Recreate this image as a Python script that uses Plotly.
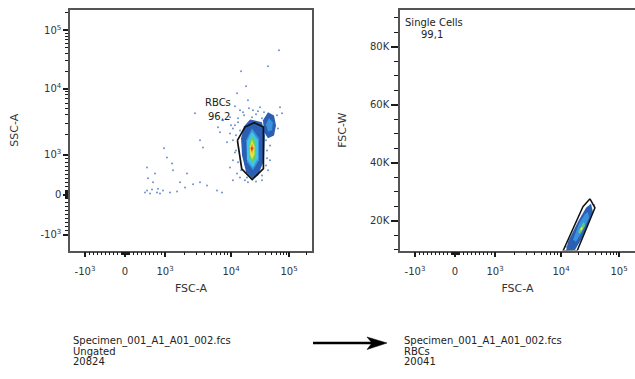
import numpy as np
import plotly.graph_objects as go

# ---------------- axis ticks ----------------
BIEX_TICK_VALUES = [-1000, 0, 1000, 10000, 100000]
BIEX_TICK_LABELS = ["-10<sup>3</sup>", "0", "10<sup>3</sup>", "10<sup>4</sup>", "10<sup>5</sup>"]
BIEX_MINOR_VALUES = (list(range(-900, 0, 100)) + list(range(-90, 0, 10)) + list(range(10, 100, 10))
                     + list(range(100, 1000, 100)) + list(range(2000, 10000, 1000))
                     + list(range(20000, 100000, 10000)) + [200000])
FSCW_TICK_VALUES = [20000, 40000, 60000, 80000]
FSCW_TICK_LABELS = ["20K", "40K", "60K", "80K"]

# ---------------- panel 1 : FSC-A vs SSC-A (ungated) ----------------
P1_DOTS_FSCA = [67300, 43500, 14900, 18200, 12700, 19600, 11700, 2850, 6350, 6810,
                9660, 10800, 8700, 11700, 10800, 9660, 12700, 3390, 3770, 975,
                1070, 1280, 2150, 1690, 3390, 4330, 6130, 7310, 550, 575,
                750, 700, 550, 625, 800, 950, 1190, 1520, 2010, 2660,
                70000, 62100, 31600, 23900, 41800, 75700, 9660, 7570, 14300, 10800,
                1320, 11700, 13200, 16800, 27000, 41800, 40100, 34200, 17400, 12200,
                675, 500, 825, 875, 14300, 40100, 19600, 47000,
                16100, 20400, 29200, 34200, 13200, 10800, 12200, 13200, 14900, 18900,
                27000, 34200, 43500, 41800, 47000, 14300, 23000, 37100, 10000, 64600]
P1_DOTS_SSCA = [45700, 24200, 19900, 11000, 8490, 6650, 5400, 4230, 2600, 2180,
                2100, 2500, 1540, 1080, 860, 680, 530, 1650, 1290, 1250,
                930, 780, 530, 310, 310, 230, 110, 60, 680, 410,
                530, 310, 110, 30, 60, 110, 60, 80, 180, 260,
                5210, 3940, 5210, 4690, 3310, 4230, 3670, 3310, 430, 360,
                610, 2780, 3550, 3940, 4080, 1160, 730, 480, 360, 1960,
                130, 60, 150, 30, 2330, 1650, 310, 860,
                4370, 5030, 4530, 3550, 3090, 1650, 1160, 810, 610, 430,
                330, 360, 610, 910, 1380, 4690, 3670, 4370, 2780, 2500]

# density levels of the main RBC population (outer -> inner)
P1_MAIN_L1_FSCA = [21300, 34200, 38500, 37100, 29200, 23000, 18200, 15500, 14900, 16800]
P1_MAIN_L1_SSCA = [3410, 3100, 1950, 860, 480, 410, 560, 980, 1770, 2690]
P1_MAIN_L2_FSCA = [23000, 30400, 30400, 23900, 18900, 18200]
P1_MAIN_L2_SSCA = [2510, 1770, 860, 610, 810, 1650]
P1_MAIN_L3_FSCA = [23000, 29200, 29200, 23900, 18900, 18900]
P1_MAIN_L3_SSCA = [2250, 1650, 910, 680, 880, 1590]
P1_MAIN_L4_FSCA = [23000, 27000, 27000, 23900, 20400, 20400]
P1_MAIN_L4_SSCA = [1960, 1480, 960, 780, 960, 1480]
P1_MAIN_L5_FSCA = [23000, 25400, 25400, 23000, 21300, 21300]
P1_MAIN_L5_SSCA = [1700, 1340, 1010, 880, 1010, 1340]
P1_MAIN_L6_FSCA = [23000, 24600, 23000, 21700]
P1_MAIN_L6_SSCA = [1480, 1250, 1030, 1250]
P1_MAIN_L7_FSCA = [23000, 23900, 23000, 22100]
P1_MAIN_L7_SSCA = [1340, 1250, 1120, 1250]
# secondary population (upper right)
P1_SEC_L1_FSCA = [43500, 55100, 59700, 55100, 43500, 37100, 35600]
P1_SEC_L1_SSCA = [4390, 3930, 2770, 1950, 1770, 2180, 3320]
P1_SEC_L2_FSCA = [45200, 52900, 50900, 43500, 40100]
P1_SEC_L2_SSCA = [3560, 3100, 2340, 2250, 2890]
# RBCs gate
P1_GATE_FSCA = [12900, 17400, 25100, 36200, 36200, 23200, 15300]
P1_GATE_SSCA = [1650, 2620, 3050, 2620, 650, 380, 650]

# ---------------- panel 2 : FSC-A vs FSC-W (RBCs) ----------------
P2_L1_FSCA = [32900, 35600, 24900, 17400, 12200, 13200, 19600, 27000]
P2_L1_FSCW = [25800, 23000, 15100, 9900, 9600, 12700, 19600, 24400]
P2_L2_FSCA = [29200, 30400, 23000, 18200, 16100, 20400, 25900]
P2_L2_FSCW = [23000, 21000, 16100, 12700, 13400, 18900, 22300]
P2_L3_FSCA = [24900, 25900, 21300, 19600]
P2_L3_FSCW = [19600, 18200, 15500, 16100]
P2_L4_FSCA = [23000, 23900, 22100, 21300]
P2_L4_FSCW = [17900, 17200, 16500, 17200]
P2_DOTS_FSCA = [12200, 37100, 14300]
P2_DOTS_FSCW = [11000, 25400, 11700]
P2_GATE_FSCA = [31600, 38500, 25900, 18900, 10800, 16100, 23900]
P2_GATE_FSCW = [27500, 24400, 16100, 9500, 9500, 17500, 24800]

LEVEL_COLORS = ["#2b5fb3", "#3a92dc", "#3fc6e6", "#63d067", "#e6e33a", "#f29b2e", "#e3341d"]
DOT_COLOR = "rgba(60,110,190,0.75)"


def biex(v):
    """Biexponential-like display transform (linear around 0, log above 10^3)."""
    v = np.asarray(v, dtype=float)
    a = np.abs(v)
    logpart = np.interp(np.log10(np.maximum(a, 1e-9)), [3, 4, 5, 6], [1.0, 2.65, 4.1, 5.55])
    out = np.where(a <= 1000, a / 1000.0, logpart)
    return np.sign(v) * out


def closed(a):
    return list(a) + [a[0]]


fig = go.Figure()


def add_level(xv, yv, color, xa, ya, ybiex=True):
    yy = biex(closed(yv)) if ybiex else closed(yv)
    fig.add_trace(go.Scatter(x=biex(closed(xv)), y=yy, mode="lines", fill="toself",
                             fillcolor=color, line=dict(width=0, color=color),
                             xaxis=xa, yaxis=ya, hoverinfo="skip", showlegend=False))


# panel 1
fig.add_trace(go.Scatter(x=biex(P1_DOTS_FSCA), y=biex(P1_DOTS_SSCA), mode="markers",
                         marker=dict(size=2, color=DOT_COLOR), xaxis="x", yaxis="y",
                         showlegend=False))
add_level(P1_SEC_L1_FSCA, P1_SEC_L1_SSCA, LEVEL_COLORS[0], "x", "y")
add_level(P1_SEC_L2_FSCA, P1_SEC_L2_SSCA, LEVEL_COLORS[1], "x", "y")
main_levels = [(P1_MAIN_L1_FSCA, P1_MAIN_L1_SSCA), (P1_MAIN_L2_FSCA, P1_MAIN_L2_SSCA),
               (P1_MAIN_L3_FSCA, P1_MAIN_L3_SSCA), (P1_MAIN_L4_FSCA, P1_MAIN_L4_SSCA),
               (P1_MAIN_L5_FSCA, P1_MAIN_L5_SSCA), (P1_MAIN_L6_FSCA, P1_MAIN_L6_SSCA),
               (P1_MAIN_L7_FSCA, P1_MAIN_L7_SSCA)]
for (xv, yv), col in zip(main_levels, LEVEL_COLORS):
    add_level(xv, yv, col, "x", "y")
fig.add_trace(go.Scatter(x=biex(closed(P1_GATE_FSCA)), y=biex(closed(P1_GATE_SSCA)), mode="lines",
                         line=dict(color="#111111", width=1.7), xaxis="x", yaxis="y",
                         showlegend=False))

# panel 2
fig.add_trace(go.Scatter(x=biex(P2_DOTS_FSCA), y=P2_DOTS_FSCW, mode="markers",
                         marker=dict(size=2, color=DOT_COLOR), xaxis="x2", yaxis="y2",
                         showlegend=False))
p2_levels = [(P2_L1_FSCA, P2_L1_FSCW), (P2_L2_FSCA, P2_L2_FSCW),
             (P2_L3_FSCA, P2_L3_FSCW), (P2_L4_FSCA, P2_L4_FSCW)]
for (xv, yv), col in zip(p2_levels, [LEVEL_COLORS[0], LEVEL_COLORS[1], LEVEL_COLORS[3], LEVEL_COLORS[4]]):
    add_level(xv, yv, col, "x2", "y2", ybiex=False)
fig.add_trace(go.Scatter(x=biex(closed(P2_GATE_FSCA)), y=closed(P2_GATE_FSCW), mode="lines",
                         line=dict(color="#111111", width=1.5), xaxis="x2", yaxis="y2",
                         showlegend=False))

W, H = 635, 379
FONT = "DejaVu Sans"
TICKFONT = dict(family=FONT, size=10, color="#333333")
TITLEFONT = dict(family=FONT, size=11, color="#333333")
LINE = dict(showline=True, linecolor="#555555", linewidth=1.5, showgrid=False, zeroline=False,
            ticks="outside", tickcolor="#1a1a1a", tickwidth=1.5, automargin=False)

biex_axis = dict(tickmode="array", tickvals=biex(BIEX_TICK_VALUES), ticktext=BIEX_TICK_LABELS,
                 ticklen=5, tickfont=TICKFONT,
                 minor=dict(tickmode="array", tickvals=biex(BIEX_MINOR_VALUES), ticks="outside",
                            ticklen=3, tickwidth=1, tickcolor="#1a1a1a"))

ydom = [1 - 250.5 / H, 1 - 10 / H]
fig.update_layout(
    width=W, height=H, margin=dict(l=0, r=0, t=0, b=0),
    paper_bgcolor="white", plot_bgcolor="white", showlegend=False,
    xaxis=dict(domain=[70 / W, 312 / W], range=[-1.375, 4.675], anchor="y", mirror=True,
               ticklabelstandoff=6,
               title=dict(text="FSC-A", font=TITLEFONT, standoff=8), **LINE, **biex_axis),
    yaxis=dict(domain=ydom, range=[-1.39, 4.61], anchor="x", mirror=True,
               title=dict(text="SSC-A", font=TITLEFONT, standoff=20), **LINE, **biex_axis),
    xaxis2=dict(domain=[400 / W, 1.0], range=[-1.375, 4.5], anchor="y2", mirror=True,
                ticklabelstandoff=6,
                title=dict(text="FSC-A", font=TITLEFONT, standoff=8), **LINE, **biex_axis),
    yaxis2=dict(domain=ydom, range=[9700, 92600], anchor="x2", mirror=False,
                tickmode="array", tickvals=FSCW_TICK_VALUES, ticktext=FSCW_TICK_LABELS,
                ticklen=7, tickfont=TICKFONT,
                minor=dict(tick0=0, dtick=5000, ticks="outside", ticklen=4, tickwidth=1,
                           tickcolor="#1a1a1a"),
                title=dict(text="FSC-W", font=TITLEFONT, standoff=21), **LINE),
)

GATEFONT = dict(family=FONT, size=10, color="#222222")
TEXTFONT = dict(family=FONT, size=10, color="#222222")


def px(xp, yp):
    return xp / W, 1 - yp / H


annots = []
for txt, (xp, yp), anc in [("RBCs", (218, 103), "center"), ("96,2", (219, 116), "center"),
                           ("Single Cells", (403, 22), "left"), ("99,1", (432, 34), "center")]:
    x, y = px(xp, yp)
    annots.append(dict(text=txt, x=x, y=y, xref="paper", yref="paper", showarrow=False,
                       xanchor=anc, yanchor="middle", font=GATEFONT))
for x0, lines in [(71, ["Specimen_001_A1_A01_002.fcs", "Ungated", "20824"]),
                  (402, ["Specimen_001_A1_A01_002.fcs", "RBCs", "20041"])]:
    for txt, yp in zip(lines, [341, 351, 361]):
        x, y = px(x0, yp)
        annots.append(dict(text=txt, x=x, y=y, xref="paper", yref="paper", showarrow=False,
                           xanchor="left", yanchor="middle", font=TEXTFONT))
fig.update_layout(annotations=annots)

# arrow between the two sample descriptions
ax0, ay = px(313, 343)
ax1, _ = px(372, 343)
tip, _ = px(387, 343)
bx, _ = px(367, 343)
_, ytop = px(0, 337)
_, ybot = px(0, 349.5)
fig.add_shape(type="line", xref="paper", yref="paper", x0=ax0, y0=ay, x1=ax1, y1=ay,
              line=dict(color="black", width=2.5))
fig.add_shape(type="path", xref="paper", yref="paper",
              path=f"M {tip} {ay} L {bx} {ytop} L {ax1} {ay} L {bx} {ybot} Z",
              fillcolor="black", line=dict(color="black", width=0.5))

fig.write_html("out.html", config={"displayModeBar": False},
               post_script="document.body.style.margin='0';")
